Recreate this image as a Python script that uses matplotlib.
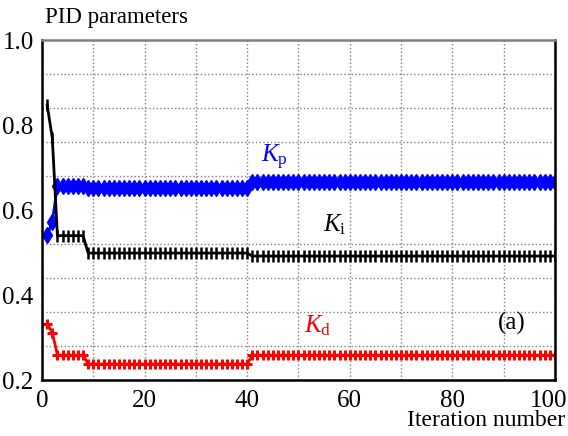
import numpy as np
import matplotlib
matplotlib.use("Agg")
import matplotlib.pyplot as plt
from matplotlib.transforms import ScaledTranslation

plt.rcParams['font.family'] = 'Liberation Serif'
plt.rcParams['mathtext.fontset'] = 'custom'
plt.rcParams['mathtext.rm'] = 'Liberation Serif'
plt.rcParams['mathtext.it'] = 'Liberation Serif:italic'

# Data (iterations 1..100)
iterations = np.arange(1, 101)
kp = [0.541, 0.572] + [0.657] * 6 + [0.652] * 32 + [0.666] * 60
ki = [0.847, 0.770] + [0.540] * 6 + [0.499] * 32 + [0.492] * 60
kd = [0.333, 0.312] + [0.259] * 6 + [0.238] * 32 + [0.259] * 60

fig = plt.figure(figsize=(5.68, 4.36), dpi=100)
ax = fig.add_axes([0.074, 0.128, 0.903, 0.78])

ax.plot(iterations, kp, color='blue', lw=2, marker='d', ms=8, mec='blue')
ax.plot(iterations, ki, color='black', lw=2, marker='|', ms=8, mew=1.8)
ax.plot(iterations, kd, color='red', lw=2, marker='+', ms=7, mew=2.2)

ax.set_xlim(0, 100)
ax.set_ylim(0.2, 1.0)
ax.set_xticks(np.arange(0, 101, 20))
ax.set_xticks(np.arange(0, 101, 10), minor=True)
ax.set_yticks([0.2, 0.4, 0.6, 0.8, 1.0])
ax.set_yticklabels(['0.2', '0.4', '0.6', '0.8', '1.0'])
ax.set_yticks(np.linspace(0.2, 1.0, 11), minor=True)
ax.tick_params(which='both', length=0, labelsize=18)
ax.tick_params(axis='x', pad=7)
ax.tick_params(axis='y', pad=6)
# shift the last x label a little left so it stays inside the figure
last = ax.get_xticklabels()[-1]
last.set_transform(last.get_transform() + ScaledTranslation(-6 / 100, 0, fig.dpi_scale_trans))

ax.grid(True, axis='x', which='both', ls=':', color='gray', lw=1)
ax.grid(True, axis='y', which='minor', ls=':', color='gray', lw=1)
ax.grid(False, axis='y', which='major')

for side in ['left', 'bottom', 'right']:
    ax.spines[side].set_color('black')
    ax.spines[side].set_linewidth(1.8)
ax.spines['top'].set_color('gray')
ax.spines['top'].set_linewidth(1.8)

ax.text(45.4, 0.725, r'$K_\mathrm{p}$', color='blue', fontsize=18, ha='center', va='center')
ax.text(57.1, 0.565, r'$K_\mathrm{i}$', color='black', fontsize=18, ha='center', va='center')
ax.text(53.8, 0.329, r'$K_\mathrm{d}$', color='red', fontsize=18, ha='center', va='center')
ax.text(91.6, 0.334, '(a)', fontsize=18, ha='center', va='center')

fig.text(0.08, 0.96, 'PID parameters', fontsize=16.5, ha='left', va='center')
fig.text(0.995, 0.035, 'Iteration number', fontsize=17, ha='right', va='center')

fig.savefig('out.png', dpi=100)
